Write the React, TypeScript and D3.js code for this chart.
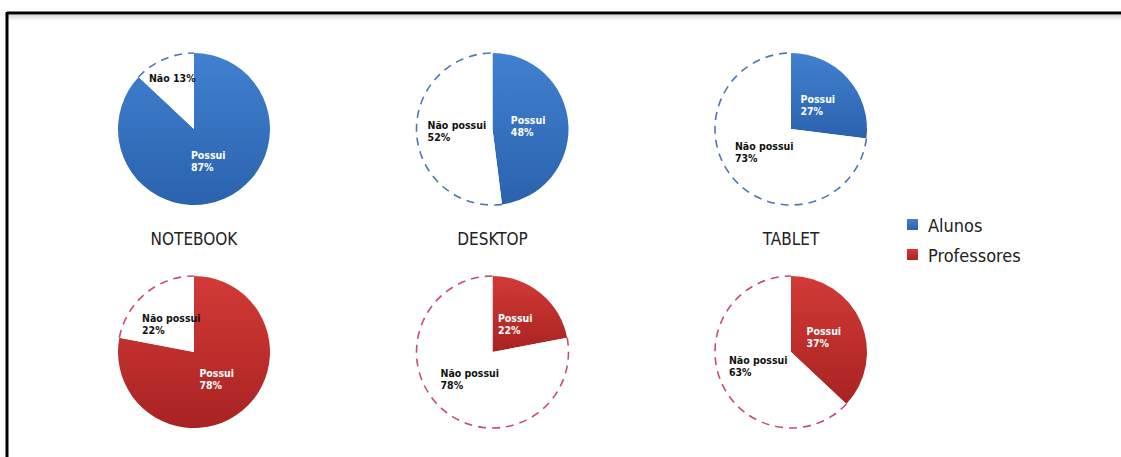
import React from "react";
import * as d3 from "d3";

const devices = ["NOTEBOOK", "DESKTOP", "TABLET"];
const groups = ["Alunos", "Professores"];
const alunosPossui = [87, 48, 27];
const professoresPossui = [78, 22, 37];
const sliceNames = ["Possui", "Não possui"];

const W = 1121;
const H = 457;
const R = 76;

const colX = d3.scalePoint<string>().domain(devices).range([194, 791]);
const rowY = d3.scalePoint<string>().domain(groups).range([129, 352]);

const palette: Record<string, { top: string; bottom: string; dash: string }> = {
  Alunos: { top: "#4081d0", bottom: "#2b62ad", dash: "#4f76b3" },
  Professores: { top: "#d23a36", bottom: "#a82322", dash: "#c4506a" },
};

const pie = d3
  .pie<{ name: string; value: number }>()
  .sort(null)
  .value((d) => d.value);
const arc = d3.arc<d3.PieArcDatum<{ name: string; value: number }>>().innerRadius(0).outerRadius(R);

const font = "'DejaVu Sans Condensed', 'DejaVu Sans', sans-serif";
const labelSize = 10.5;

let ctx: CanvasRenderingContext2D | null = null;
function measure(s: string) {
  if (!ctx) ctx = document.createElement("canvas").getContext("2d");
  if (!ctx) return s.length * labelSize * 0.55;
  ctx.font = `bold ${labelSize}px ${font}`;
  return ctx.measureText(s).width;
}

function outerArc(a0: number, a1: number) {
  const p = d3.path();
  p.moveTo(Math.sin(a0) * R, -Math.cos(a0) * R);
  p.arc(0, 0, R, a0 - Math.PI / 2, a1 - Math.PI / 2, false);
  return p.toString();
}

export default function App() {
  const rows = [
    { group: "Alunos", values: alunosPossui },
    { group: "Professores", values: professoresPossui },
  ];
  return (
    <svg width={W} height={H} style={{ position: "absolute", left: 0, top: 0, background: "#fff" }}>
      <defs>
        {groups.map((g) => (
          <linearGradient key={g} id={`grad-${g}`} x1="0" y1="0" x2="0" y2="1">
            <stop offset="0" stopColor={palette[g].top} />
            <stop offset="1" stopColor={palette[g].bottom} />
          </linearGradient>
        ))}
        <linearGradient id="shadow" x1="0" y1="0" x2="0" y2="1">
          <stop offset="0" stopColor="#d8d8d8" />
          <stop offset="1" stopColor="#ffffff" />
        </linearGradient>
      </defs>
      <rect x={0} y={0} width={W} height={H} fill="#fff" />
      <rect x={8} y={15} width={W - 8} height={6} fill="url(#shadow)" />
      <line x1={7} y1={13} x2={W} y2={13} stroke="#000" strokeWidth={3} />
      <line x1={7} y1={12} x2={7} y2={H} stroke="#000" strokeWidth={3} />

      {rows.map((row) =>
        devices.map((dev, i) => {
          const cx = colX(dev)!;
          const cy = rowY(row.group)!;
          const data = [
            { name: sliceNames[0], value: row.values[i] },
            { name: sliceNames[1], value: 100 - row.values[i] },
          ];
          const arcs = pie(data);
          const pal = palette[row.group];
          return (
            <g key={row.group + dev} transform={`translate(${cx},${cy})`}>
              {arcs.map((a, k) => {
                if (k === 0) {
                  return <path key={k} d={arc(a)!} fill={`url(#grad-${row.group})`} />;
                }
                return (
                  <g key={k}>
                    <path d={arc(a)!} fill="#fff" />
                    <path
                      d={outerArc(a.startAngle, a.endAngle)}
                      fill="none"
                      stroke={pal.dash}
                      strokeWidth={1.6}
                      strokeDasharray="8,6"
                    />
                  </g>
                );
              })}
              {arcs.map((a, k) => {
                const small = a.data.value < 15;
                const lr = small ? R * 0.72 : R * 0.47;
                const la = (a.startAngle + a.endAngle) / 2;
                const x = Math.sin(la) * lr;
                const y = -Math.cos(la) * lr;
                const fill = k === 0 ? "#fff" : "#111";
                const lines = small
                  ? [`Não ${a.data.value}%`]
                  : [a.data.name, `${a.data.value}%`];
                const wMax = Math.max(...lines.map(measure));
                const left = x - wMax / 2;
                const lh = 12;
                const y0 = y - ((lines.length - 1) * lh) / 2 + 3.5;
                return (
                  <text
                    key={"t" + k}
                    fontFamily={font}
                    fontSize={labelSize}
                    fontWeight="bold"
                    fill={fill}
                  >
                    {lines.map((s, j) => (
                      <tspan key={j} x={left} y={y0 + j * lh}>
                        {s}
                      </tspan>
                    ))}
                  </text>
                );
              })}
            </g>
          );
        })
      )}

      {devices.map((dev) => (
        <text
          key={dev}
          x={colX(dev)!}
          y={245}
          textAnchor="middle"
          fontFamily={font}
          fontSize={17}
          fill="#222"
        >
          {dev}
        </text>
      ))}

      {groups.map((g, i) => (
        <g key={g} transform={`translate(907, ${219 + i * 30})`}>
          <rect x={0} y={0} width={11} height={11} fill={`url(#grad-${g})`} />
          <text x={21} y={12.5} fontFamily={font} fontSize={18} fill="#222">
            {g}
          </text>
        </g>
      ))}
    </svg>
  );
}
